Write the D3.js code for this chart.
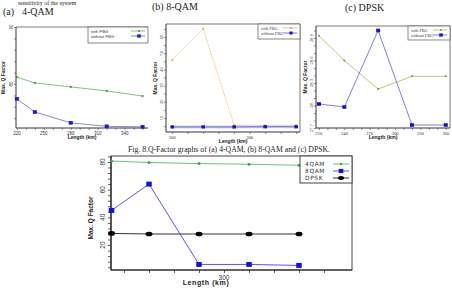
<!DOCTYPE html>
<html><head><meta charset="utf-8">
<script src="https://cdn.jsdelivr.net/npm/d3@7"></script>
<style>
html,body{margin:0;padding:0;background:#fff;}
svg{display:block;}
</style></head>
<body>
<svg id="c" width="452" height="289"></svg>
<script>
// ---------- data ----------
const lengthsA = [220, 240, 280, 320, 360];
const qam4With = [81.2, 80.2, 79.5, 78.8, 77.9];
const qam4Without = [77.4, 75.1, 73.2, 72.6, 72.5];

const lengthsB = [200, 240, 280, 320, 360];
const qam8With = [45.8, 65, 5.5, 5.5, 5.5];
const qam8Without = [4.5, 4.5, 4.5, 4.6, 4.6];

const lengthsC = [210, 240, 280, 320, 360];
const dpskWith = [28.93, 28.6, 28.22, 28.39, 28.39];
const dpskWithout = [28.02, 27.98, 29.0, 27.74, 27.74];

const lengthsAll = [210, 240, 280, 320, 360];
const allQ4 = [80.7, 79.6, 78.8, 78.4, 77.6];
const allQ8 = [45, 64, 6, 6, 5.3];
const allDpsk = [28.4, 28, 28, 28, 28];

const ticksAx = [220, 250, 280, 310, 340];
const ticksAy = [80, 90];
const ticksBx = [200, 300];
const ticksBy = [10, 20, 30, 40, 50, 60];
const ticksCx = [210, 240, 270, 300, 330, 360];
const ticksCy = [27.7, 28, 28.3, 28.6, 28.9];
const ticksAllX = [300];
const ticksAllY = [20, 40, 60, 80];
const seriesNames = ["4QAM", "8QAM", "DPSK"];
const fbgNames = ["with FBG", "without FBG"];

const svg = d3.select("#c");
const SERIF = "'Liberation Serif', 'Times New Roman', serif";
const SANS = "'Liberation Sans', Arial, sans-serif";

// ---------- page text ----------
svg.append("text").attr("x", 18).attr("y", 4.5).attr("font-family", SERIF).attr("font-size", 6)
  .attr("fill", "#222").text("sensitivity of the system");
svg.append("text").attr("x", 3).attr("y", 15).attr("font-family", SERIF).attr("font-size", 10)
  .attr("fill", "#222").text("(a)");
svg.append("text").attr("x", 22).attr("y", 15).attr("font-family", SERIF).attr("font-size", 10)
  .attr("fill", "#222").text("4-QAM");
svg.append("text").attr("x", 152).attr("y", 10).attr("font-family", SERIF).attr("font-size", 10)
  .attr("fill", "#222").text("(b) 8-QAM");
svg.append("text").attr("x", 345).attr("y", 11).attr("font-family", SERIF).attr("font-size", 10)
  .attr("fill", "#222").text("(c) DPSK");
svg.append("text").attr("x", 128).attr("y", 152).attr("font-family", SERIF).attr("font-size", 9)
  .attr("fill", "#222").attr("textLength", 202).attr("lengthAdjust", "spacingAndGlyphs")
  .text("Fig. 8.Q-Factor graphs of (a) 4-QAM, (b) 8-QAM and (c) DPSK.");

// ---------- helpers ----------
function marker(g, type, x, y, color, s) {
  if (type === "square") {
    g.append("rect").attr("x", x - s/2).attr("y", y - s*0.45).attr("width", s).attr("height", s*0.9).attr("fill", color);
  } else if (type === "ellipse") {
    g.append("ellipse").attr("cx", x).attr("cy", y).attr("rx", s/2).attr("ry", s*0.33).attr("fill", color);
  } else {
    g.append("circle").attr("cx", x).attr("cy", y).attr("r", s/2).attr("fill", color);
  }
}

function smallPanel(cfg) {
  const g = svg.append("g");
  const x = d3.scaleLinear().domain(cfg.xd).range(cfg.xr);
  const y = d3.scaleLinear().domain(cfg.yd).range(cfg.yr);
  g.append("line").attr("x1", cfg.xr[0]).attr("x2", cfg.xr[1]).attr("y1", cfg.yr[1]).attr("y2", cfg.yr[1]).attr("stroke", "#555").attr("stroke-width", 0.8);
  if (cfg.rightFrame) g.append("line").attr("x1", cfg.xr[1]).attr("x2", cfg.xr[1]).attr("y1", cfg.yr[1]).attr("y2", cfg.yr[0]).attr("stroke", "#555").attr("stroke-width", 0.8);
  const xa = g.append("g").attr("transform", `translate(0,${cfg.yr[0]})`)
    .call(d3.axisBottom(x).tickValues(d3.range(cfg.xMinor[0], cfg.xMinor[1] + 0.001, cfg.xMinor[2])).tickSize(2).tickFormat(""));
  const ya = g.append("g").attr("transform", `translate(${cfg.xr[0]},0)`)
    .call(d3.axisLeft(y).tickValues(d3.range(cfg.yMinor[0], cfg.yMinor[1] + 0.0001, cfg.yMinor[2])).tickSize(2).tickFormat(""));
  [xa, ya].forEach(a => { a.selectAll("path").attr("stroke", "#333").attr("stroke-width", 1); a.selectAll("line").attr("stroke", "#444").attr("stroke-width", 0.6); });
  ya.select("path").attr("d", `M0,${cfg.yr[0]}V${cfg.yr[1]}`);
  xa.select("path").attr("d", `M${cfg.xr[0]},0H${cfg.xr[1]}`);
  cfg.xLabels.forEach(v => g.append("text").attr("x", x(v)).attr("y", cfg.yr[0] + 6.5).attr("text-anchor", "middle")
    .attr("font-family", cfg.font).attr("font-size", 4.5).attr("fill", "#333").text(v));
  cfg.yLabels.forEach(v => g.append("text").attr("transform", `translate(${cfg.xr[0] - 3.5},${y(v)}) rotate(-90)`)
    .attr("text-anchor", "middle").attr("font-family", cfg.font).attr("font-size", 4.5).attr("fill", "#333").text(v));
  g.append("text").attr("x", cfg.xTitleX).attr("y", cfg.yr[0] + 11).attr("text-anchor", "middle")
    .attr("font-family", SANS).attr("font-weight", "bold").attr("font-size", 5).attr("fill", "#222").text("Length (km)");
  g.append("text").attr("transform", `translate(${cfg.yTitleX},${(cfg.yr[0] + cfg.yr[1]) / 2}) rotate(-90)`)
    .attr("text-anchor", "middle").attr("font-family", SANS).attr("font-weight", "bold").attr("font-size", 5)
    .attr("fill", "#222").text("Max. Q Factor");
  cfg.series.forEach(s => {
    const pts = s.xs.map((v, i) => [x(v), y(s.ys[i])]);
    if (s.band) g.append("path").attr("d", d3.line()(pts)).attr("fill", "none").attr("stroke", s.band).attr("stroke-width", 3);
    g.append("path").attr("d", d3.line()(pts)).attr("fill", "none").attr("stroke", s.line).attr("stroke-width", s.lw || 0.7)
      .attr("stroke-dasharray", s.dash || null);
    pts.forEach(p => marker(g, s.marker, p[0], p[1], s.color, s.ms));
  });
  const L = cfg.legend;
  g.append("rect").attr("x", L.x).attr("y", L.y).attr("width", L.w).attr("height", L.h)
    .attr("fill", "#fff").attr("stroke", "#555").attr("stroke-width", 0.7);
  cfg.series.forEach((s, i) => {
    const ly = L.y + 4 + i * 5;
    g.append("text").attr("x", L.x + 3).attr("y", ly + 1.5).attr("font-family", cfg.font).attr("font-size", 4.2)
      .attr("fill", "#333").text(fbgNames[i]);
    g.append("line").attr("x1", L.x + L.w - 17).attr("x2", L.x + L.w - 3).attr("y1", ly).attr("y2", ly)
      .attr("stroke", s.line).attr("stroke-width", 0.7);
    marker(g, s.marker, L.x + L.w - 9, ly, s.color, s.ms * 0.9);
  });
}

smallPanel({
  xd: [219, 366], xr: [16, 148], yd: [72.3, 90], yr: [128, 27],
  xMinor: [220, 360, 10], yMinor: [74, 90, 2],
  xLabels: ticksAx, yLabels: ticksAy, font: SANS,
  xTitleX: 82, yTitleX: 5, rightFrame: false,
  legend: { x: 88, y: 27, w: 60, h: 16 },
  series: [
    { xs: lengthsA, ys: qam4With, line: "#4aa84a", color: "#3c9c3c", marker: "circle", ms: 2.2 },
    { xs: lengthsA, ys: qam4Without, line: "#5050d8", color: "#1a1ad8", marker: "square", ms: 4 }
  ]
});

smallPanel({
  xd: [192, 365], xr: [166, 300], yd: [1.36, 68], yr: [132, 24],
  xMinor: [200, 360, 20], yMinor: [5, 65, 5],
  xLabels: ticksBx, yLabels: ticksBy, font: SERIF,
  xTitleX: 233, yTitleX: 157, rightFrame: true,
  legend: { x: 258, y: 24, w: 42, h: 15 },
  series: [
    { xs: lengthsB, ys: qam8With, line: "#f2a540", color: "#f0a030", marker: "circle", ms: 2, dash: "1,0.6" },
    { xs: lengthsB, ys: qam8Without, line: "#3a3ad8", color: "#1414c8", marker: "square", ms: 3.6, band: "#cfd2f6" }
  ]
});

smallPanel({
  xd: [206.5, 365], xr: [316, 450], yd: [27.7, 29.06], yr: [128, 26],
  xMinor: [210, 360, 10], yMinor: [27.7, 29.0, 0.1],
  xLabels: ticksCx, yLabels: ticksCy, font: SERIF,
  xTitleX: 383, yTitleX: 307, rightFrame: true,
  legend: { x: 408, y: 26, w: 42, h: 14 },
  series: [
    { xs: lengthsC, ys: dpskWith, line: "#a8a83a", color: "#8a8a20", marker: "circle", ms: 2 },
    { xs: lengthsC, ys: dpskWithout, line: "#4848e0", color: "#1515d0", marker: "square", ms: 4 }
  ]
});

(function () {
  const g = svg.append("g");
  const xr = [111, 352], yr = [270, 156];
  const x = d3.scaleLinear().domain([209.6, 402.4]).range(xr);
  const y = d3.scaleLinear().domain([2, 84.3]).range(yr);
  g.append("rect").attr("x", xr[0]).attr("y", yr[1]).attr("width", xr[1] - xr[0]).attr("height", yr[0] - yr[1])
    .attr("fill", "none").attr("stroke", "#444").attr("stroke-width", 1);
  const xa = g.append("g").attr("transform", `translate(0,${yr[0]})`)
    .call(d3.axisBottom(x).tickValues(d3.range(220, 381, 20)).tickSize(3).tickFormat(""));
  const ya = g.append("g").attr("transform", `translate(${xr[0]},0)`)
    .call(d3.axisLeft(y).tickValues(d3.range(4, 84.1, 4)).tickSize(3).tickFormat(""));
  [xa, ya].forEach(a => { a.selectAll("path").attr("stroke", "#222").attr("stroke-width", 1.2); a.selectAll("line").attr("stroke", "#333").attr("stroke-width", 0.8); });
  xa.select("path").attr("d", `M${xr[0]},0H${xr[1]}`);
  ya.select("path").attr("d", `M0,${yr[0]}V${yr[1]}`);
  ticksAllX.forEach(v => g.append("text").attr("x", x(v)).attr("y", yr[0] + 9.5).attr("text-anchor", "middle")
    .attr("font-family", SANS).attr("font-size", 6.5).attr("fill", "#333").text(v));
  ticksAllY.forEach(v => g.append("text").attr("transform", `translate(${xr[0] - 6},${y(v)}) rotate(-90)`)
    .attr("text-anchor", "middle").attr("font-family", SANS).attr("font-size", 6.5).attr("fill", "#333").text(v));
  g.append("text").attr("x", 206).attr("y", 285).attr("text-anchor", "middle").attr("font-family", SANS)
    .attr("font-weight", "bold").attr("font-size", 7).attr("letter-spacing", 0.6).attr("fill", "#222").text("Length (km)");
  g.append("text").attr("transform", `translate(93,218) rotate(-90)`).attr("text-anchor", "middle").attr("font-family", SANS)
    .attr("font-weight", "bold").attr("font-size", 6.5).attr("fill", "#222").text("Max. Q Factor");

  const series = [
    { ys: allQ4, line: "#55bb66", color: "#3aa848", marker: "circle", ms: 3, lw: 0.9 },
    { ys: allQ8, line: "#4444e8", color: "#1010e8", marker: "square", ms: 5.5, lw: 0.9 },
    { ys: allDpsk, line: "#333", color: "#000", marker: "ellipse", ms: 7, lw: 1 }
  ];
  series.forEach(s => {
    const pts = lengthsAll.map((v, i) => [x(v), y(s.ys[i])]);
    g.append("path").attr("d", d3.line()(pts)).attr("fill", "none").attr("stroke", s.line).attr("stroke-width", s.lw);
    pts.forEach(p => marker(g, s.marker, p[0], p[1], s.color, s.ms));
  });
  g.append("rect").attr("x", 300).attr("y", yr[1]).attr("width", 52).attr("height", 27)
    .attr("fill", "#fff").attr("stroke", "#444").attr("stroke-width", 1);
  series.forEach((s, i) => {
    const ly = 164 + i * 7;
    g.append("text").attr("x", 305).attr("y", ly + 2.2).attr("font-family", "'DejaVu Sans', sans-serif")
      .attr("font-size", 5.8).attr("letter-spacing", 0.7).attr("fill", "#333").text(seriesNames[i]);
    g.append("line").attr("x1", 333).attr("x2", 349).attr("y1", ly).attr("y2", ly).attr("stroke", s.line).attr("stroke-width", s.lw);
    marker(g, s.marker, 341, ly, s.color, s.ms * 0.85);
  });
})();
</script>
</body></html>
